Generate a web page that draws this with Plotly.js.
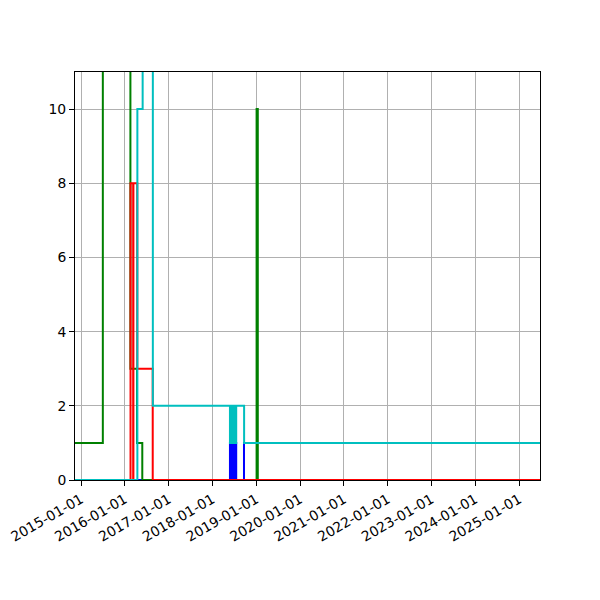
<!DOCTYPE html>
<html>
<head>
<meta charset="utf-8">
<script src="https://cdn.plot.ly/plotly-3.0.1.min.js"></script>
<style>html,body{margin:0;padding:0;background:#fff;}#chart{width:600px;height:600px;}</style>
</head>
<body>
<div id="chart"></div>
<script>
// ---- data ----
const tickDates = ['2015-01-01','2016-01-01','2017-01-01','2018-01-01','2019-01-01','2020-01-01','2021-01-01','2022-01-01','2023-01-01','2024-01-01','2025-01-01'];
const tickLabels = ['2015-01-01','2016-01-01','2017-01-01','2018-01-01','2019-01-01','2020-01-01','2021-01-01','2022-01-01','2023-01-01','2024-01-01','2025-01-01'];
const yTicks = [0, 2, 4, 6, 8, 10];

const blueDates = ['2016-04-15','2018-05-27','2018-05-31','2018-06-04','2018-06-08','2018-06-12','2018-06-16','2018-06-20','2018-06-24','2018-06-28','2018-07-02','2018-07-06','2018-07-10','2018-07-14','2018-07-18','2018-09-21','2025-12-31'];
const blueValues = [0,1,0,1,0,1,0,1,0,1,0,1,0,1,0,1,1];

const greenDates = ['2014-06-01','2015-07-02','2016-02-17','2016-04-12','2016-05-26','2019-01-04','2019-01-14','2025-12-31'];
const greenValues = [1,40,3,1,0,10,0,0];

const redDates = ['2016-02-16','2016-02-18','2016-03-11','2016-03-13','2016-04-14','2016-08-21','2025-12-31'];
const redValues = [0,8,0,8,3,0,0];

const cyanDates = ['2014-06-01','2016-04-15','2016-05-29','2016-08-22','2018-05-27','2018-05-31','2018-06-04','2018-06-08','2018-06-12','2018-06-16','2018-06-20','2018-06-24','2018-06-28','2018-07-02','2018-07-06','2018-07-10','2018-07-14','2018-07-18','2018-09-22','2025-12-31'];
const cyanValues = [0,10,15,2,1,2,1,2,1,2,1,2,1,2,1,2,1,2,1,1];

const xRange = ['2014-11-12','2025-06-24'];
const yRange = [0, 11];

function stepTrace(x, y, color) {
  return {x: x, y: y, type: 'scatter', mode: 'lines',
          line: {color: color, width: 2, shape: 'hv'}, hoverinfo: 'skip', showlegend: false};
}

const data = [
  stepTrace(blueDates, blueValues, '#0000ff'),
  stepTrace(greenDates, greenValues, '#008000'),
  stepTrace(redDates, redValues, '#ff0000'),
  stepTrace(cyanDates, cyanValues, '#00bfbf')
];

const axisCommon = {
  showline: true, mirror: true, linecolor: '#000', linewidth: 1,
  ticks: 'outside', ticklen: 5, tickwidth: 1, tickcolor: '#000',
  showgrid: true, gridcolor: '#b0b0b0', gridwidth: 1, zeroline: false,
  tickfont: {family: 'DejaVu Sans', size: 13.9, color: '#000'}
};

const layout = {
  width: 600, height: 600,
  margin: {l: 75, r: 60, t: 72, b: 120},
  paper_bgcolor: '#fff', plot_bgcolor: '#fff',
  showlegend: false,
  xaxis: Object.assign({}, axisCommon, {
    type: 'date', range: xRange, tickmode: 'array',
    tickvals: tickDates, ticktext: tickLabels, tickangle: -30
  }),
  yaxis: Object.assign({}, axisCommon, {
    range: yRange, tickmode: 'array', tickvals: yTicks, ticktext: yTicks.map(String)
  })
};

Plotly.newPlot('chart', data, layout, {staticPlot: true, displayModeBar: false});
</script>
</body>
</html>
